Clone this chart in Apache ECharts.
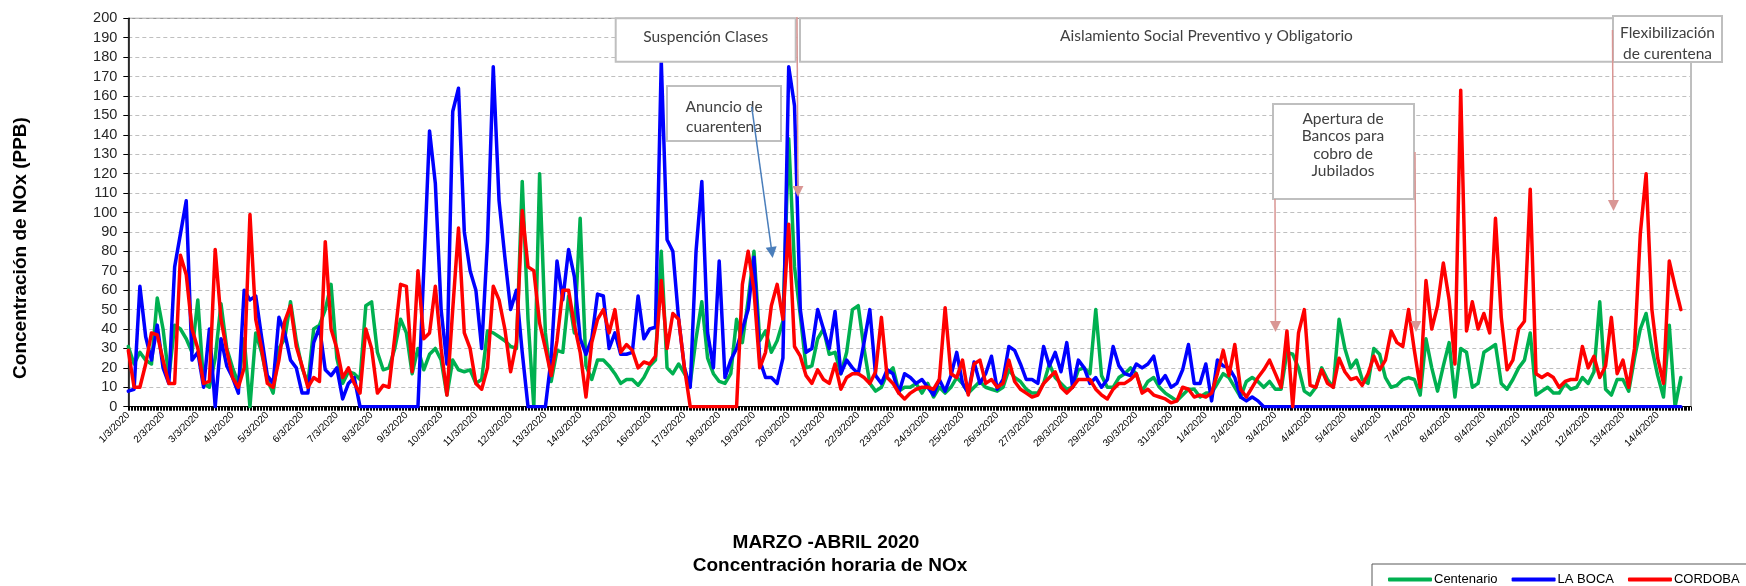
<!DOCTYPE html>
<html><head><meta charset="utf-8">
<script src="https://cdn.jsdelivr.net/npm/echarts@6/dist/echarts.min.js"></script>
<style>html,body{margin:0;padding:0;background:#fff}#c{width:1746px;height:586px}</style>
</head><body><div id="c"></div>
<script>
// Tick labels (one per day) – hourly category axis
const dayLabels = ['1/3/2020','2/3/2020','3/3/2020','4/3/2020','5/3/2020','6/3/2020','7/3/2020','8/3/2020','9/3/2020','10/3/2020',
  '11/3/2020','12/3/2020','13/3/2020','14/3/2020','15/3/2020','16/3/2020','17/3/2020','18/3/2020','19/3/2020','20/3/2020',
  '21/3/2020','22/3/2020','23/3/2020','24/3/2020','25/3/2020','26/3/2020','27/3/2020','28/3/2020','29/3/2020','30/3/2020',
  '31/3/2020','1/4/2020','2/4/2020','3/4/2020','4/4/2020','5/4/2020','6/4/2020','7/4/2020','8/4/2020','9/4/2020',
  '10/4/2020','11/4/2020','12/4/2020','13/4/2020','14/4/2020'];
const hourLabels = ['00','01','02','03','04','05','06','07','08','09','10','11','12','13','14','15','16','17','18','19','20','21','22','23'];
// Readings every 4 hours, starting 1/3/2020 00h
const SAMPLE_HOURS = 4;
const seriesNames = ['Centenario', 'LA BOCA', 'CORDOBA'];
const centenario = [
  31,22,28,24,22,56, 40,15,42,40,35,28, 55,12,10,25,53,30, 20,12,35,0,38,28, 14,7,30,35,54,34,
  20,12,40,42,50,63, 25,12,18,17,14,52, 54,28,19,20,30,45, 38,17,30,19,27,30, 24,6,24,19,18,19,
  12,14,39,38,36,34, 31,30,116,45,0,120, 38,13,29,28,57,38, 97,21,14,24,24,21, 17,12,14,14,11,15,
  21,24,80,20,17,22, 17,12,35,54,25,17, 13,12,17,45,33,55, 80,34,39,28,34,44, 138,72,47,20,21,35,
  40,27,28,17,28,50, 52,30,12,8,10,17, 20,8,10,10,12,7, 12,5,10,7,10,15, 12,7,10,13,10,9,
  8,10,19,15,13,9, 7,7,12,22,15,12, 9,10,19,20,17,50, 16,10,10,15,17,20, 17,8,13,15,10,7,
  5,3,6,9,9,5, 7,7,12,17,15,10, 5,13,15,13,10,13, 9,9,28,27,20,8, 6,10,20,14,10,45,
  30,20,24,14,12,30, 27,15,10,11,14,15, 14,6,35,20,8,21, 33,5,30,28,10,12, 28,30,32,12,9,14,
  20,24,38,6,8,10, 7,7,12,9,10,15, 12,18,54,9,6,14, 14,8,25,40,48,30, 16,5,42,0,15
];
const laBoca = [
  8,9,62,36,24,42, 20,12,72,89,106,24, 28,10,40,0,35,21, 15,7,60,55,57,36, 16,12,46,38,24,20,
  7,7,33,41,19,16, 20,4,12,15,0,0, 0,0,0,0,0,0, 0,0,0,70,142,115, 50,22,152,164,90,70,
  60,30,85,175,106,77, 50,60,28,0,0,0, 0,25,75,55,81,67, 35,27,35,58,57,30, 38,27,27,28,57,35,
  40,41,178,86,80,45, 20,10,80,116,38,20, 75,15,24,30,40,50, 77,24,15,15,12,25, 175,155,50,28,30,50,
  40,30,49,17,24,20, 17,33,50,16,12,19, 17,7,17,15,12,14, 10,6,14,8,16,28, 12,7,23,12,17,26,
  9,14,31,29,22,14, 14,12,31,21,28,18, 33,10,24,20,12,15, 10,14,31,21,17,16, 22,20,22,26,12,16,
  10,12,19,32,12,12, 22,3,24,21,20,15, 5,3,5,3,0,0, 0,0,0,0,0,0, 0,0,0,0,0,0,
  0,0,0,0,0,0, 0,0,0,0,0,0, 0,0,0,0,0,0, 0,0,0,0,0,0, 0,0,0,0,0,0,
  0,0,0,0,0,0, 0,0,0,0,0,0, 0,0,0,0,0,0, 0,0,0,0,0,0, 0,0,0,0,0
];
const cordoba = [
  29,10,10,22,38,37, 24,12,12,78,68,40, 30,12,13,81,45,29, 15,10,20,99,45,30, 12,10,24,44,52,31,
  21,10,15,13,85,40, 30,15,20,12,7,40, 30,7,11,10,36,63, 62,18,70,35,38,62, 30,6,50,92,38,30,
  12,9,20,62,55,40, 18,33,101,72,70,43, 30,16,34,60,60,42, 28,5,33,45,50,38, 50,28,32,29,20,23,
  22,26,65,30,48,45, 20,0,0,0,0,0, 0,0,0,0,63,80, 60,20,28,52,63,45, 94,31,26,16,12,19,
  14,12,22,9,15,17, 17,15,12,18,46,15, 12,7,4,7,9,10, 10,9,14,51,17,15, 24,6,22,24,12,14,
  10,12,24,13,9,7, 5,6,12,15,18,10, 7,10,14,14,14,9, 6,4,9,12,12,14, 17,7,9,6,5,4,
  2,3,10,9,5,6, 5,7,17,29,16,32, 9,5,10,15,19,24, 17,10,39,0,38,50, 11,10,19,12,10,25,
  18,14,15,11,17,26, 19,24,39,33,31,50, 29,10,65,40,52,74, 55,22,163,39,54,40, 48,38,97,46,19,24,
  40,44,112,17,15,17, 15,10,13,14,14,31, 20,26,15,21,46,17, 24,10,30,89,120,50, 25,12,75,62,50
];
const seriesColors = ['#00B050', '#0000FF', '#FF0000'];

const categories = [];
dayLabels.forEach(d => hourLabels.forEach(h => categories.push(d + ' ' + h + 'h')));
const toPairs = arr => arr.map((v, i) => [i * SAMPLE_HOURS, v]);

const FONT = '"Liberation Sans", Arial, sans-serif';
const NOTE_FONT = '15.5px Lato, "Noto Sans", sans-serif';
const NOTE_COLOR = '#404040';
const BOX_STROKE = '#BFBFBF';
const PINK = '#D99694';

function box(x, y, w, h) {
  return { type: 'rect', z: 100, shape: { x: x, y: y, width: w, height: h },
    style: { fill: '#fff', stroke: BOX_STROKE, lineWidth: 2 } };
}
function note(x, y, text, lh) {
  return { type: 'text', z: 101, x: x, y: y,
    style: { text: text, font: NOTE_FONT, fill: NOTE_COLOR, textAlign: 'center', textVerticalAlign: 'middle',
      align: 'center', verticalAlign: 'middle', lineHeight: lh || 20 } };
}
function arrow(x1, y1, x2, y2, color, lw) {
  const dx = x2 - x1, dy = y2 - y1, len = Math.sqrt(dx * dx + dy * dy);
  const ux = dx / len, uy = dy / len, L = 11, W = 5.5;
  const bx = x2 - ux * L, by = y2 - uy * L;
  return [
    { type: 'line', z: 102, shape: { x1: x1, y1: y1, x2: bx, y2: by }, style: { stroke: color, lineWidth: lw || 1.5 } },
    { type: 'polygon', z: 102, shape: { points: [[x2, y2], [bx - uy * W, by + ux * W], [bx + uy * W, by - ux * W]] },
      style: { fill: color } }
  ];
}

const chart = echarts.init(document.getElementById('c'), null, { renderer: 'canvas' });
chart.setOption({
  animation: false,
  backgroundColor: '#fff',
  grid: { left: 128.3, right: 55, top: 18.3, bottom: 179.3, show: true, borderColor: '#7F7F7F', borderWidth: 1, backgroundColor: 'transparent' },
  legend: {
    data: seriesNames, left: 1372, top: 564, width: 460, orient: 'horizontal',
    icon: 'roundRect', itemWidth: 44, itemHeight: 4, itemGap: 14,
    borderColor: '#595959', borderWidth: 1, padding: [9, 40, 9, 16],
    textStyle: { fontFamily: FONT, fontSize: 13, color: '#000', padding: [0, 0, 0, -3] }
  },
  xAxis: {
    type: 'category', data: categories, boundaryGap: false,
    axisLine: { lineStyle: { color: '#000', width: 1 } },
    axisTick: { interval: 0, length: 4, lineStyle: { color: '#000', width: 1 } },
    axisLabel: { interval: 23, rotate: 45, fontFamily: FONT, fontSize: 10, color: '#000', margin: 7,
      formatter: v => v.split(' ')[0] },
    splitLine: { show: false }
  },
  yAxis: {
    type: 'value', min: 0, max: 200, interval: 10,
    axisLine: { show: true, lineStyle: { color: '#000', width: 1.5 } },
    axisTick: { show: true, length: 5, lineStyle: { color: '#000' } },
    axisLabel: { fontFamily: FONT, fontSize: 14.5, color: '#262626', margin: 11 },
    splitLine: { show: true, lineStyle: { color: '#BFBFBF', type: [4, 3], width: 1 } }
  },
  series: [centenario, laBoca, cordoba].map((arr, i) => ({
    name: seriesNames[i], type: 'line', data: toPairs(arr), showSymbol: false, symbol: 'none',
    color: seriesColors[i], z: 2 + i,
    lineStyle: { width: 3.5, color: seriesColors[i], join: 'round', cap: 'round' }
  })),
  graphic: [
    { type: 'text', z: 50, x: 21, y: 248, rotation: Math.PI / 2,
      style: { text: 'Concentración de NOx (PPB)', font: 'bold 19px ' + FONT, fill: '#000',
        textAlign: 'center', textVerticalAlign: 'middle', align: 'center', verticalAlign: 'middle' } },
    { type: 'text', z: 50, x: 826, y: 543,
      style: { text: 'MARZO -ABRIL 2020', font: 'bold 19px ' + FONT, fill: '#000',
        textAlign: 'center', textVerticalAlign: 'middle', align: 'center', verticalAlign: 'middle' } },
    { type: 'text', z: 50, x: 830, y: 566,
      style: { text: 'Concentración horaria de NOx', font: 'bold 19px ' + FONT, fill: '#000',
        textAlign: 'center', textVerticalAlign: 'middle', align: 'center', verticalAlign: 'middle' } },
    box(615.7, 18.3, 180, 43.4), note(705.7, 36.5, 'Suspención Clases'),
    box(800, 18.3, 813, 43.4), note(1206.5, 36, 'Aislamiento Social Preventivo y Obligatorio'),
    box(1613, 16, 109, 46), note(1667.5, 43, 'Flexibilización\nde curentena', 21),
    box(667, 86, 114, 55), note(724, 117, 'Anuncio de\ncuarentena', 20),
    box(1273, 104, 141, 95), note(1343, 145, 'Apertura de\nBancos para\ncobro de\nJubilados', 17.5),
    ...arrow(751.7, 106.7, 772.7, 258, '#4A7EBB', 1.5),
    ...arrow(797, 17, 798, 197, PINK, 1.5),
    ...arrow(1275, 199, 1275.5, 332, PINK, 1.5),
    ...arrow(1415, 152, 1416, 332, PINK, 1.5),
    ...arrow(1612.5, 30, 1613.5, 211, PINK, 1.5)
  ]
});
</script></body></html>
